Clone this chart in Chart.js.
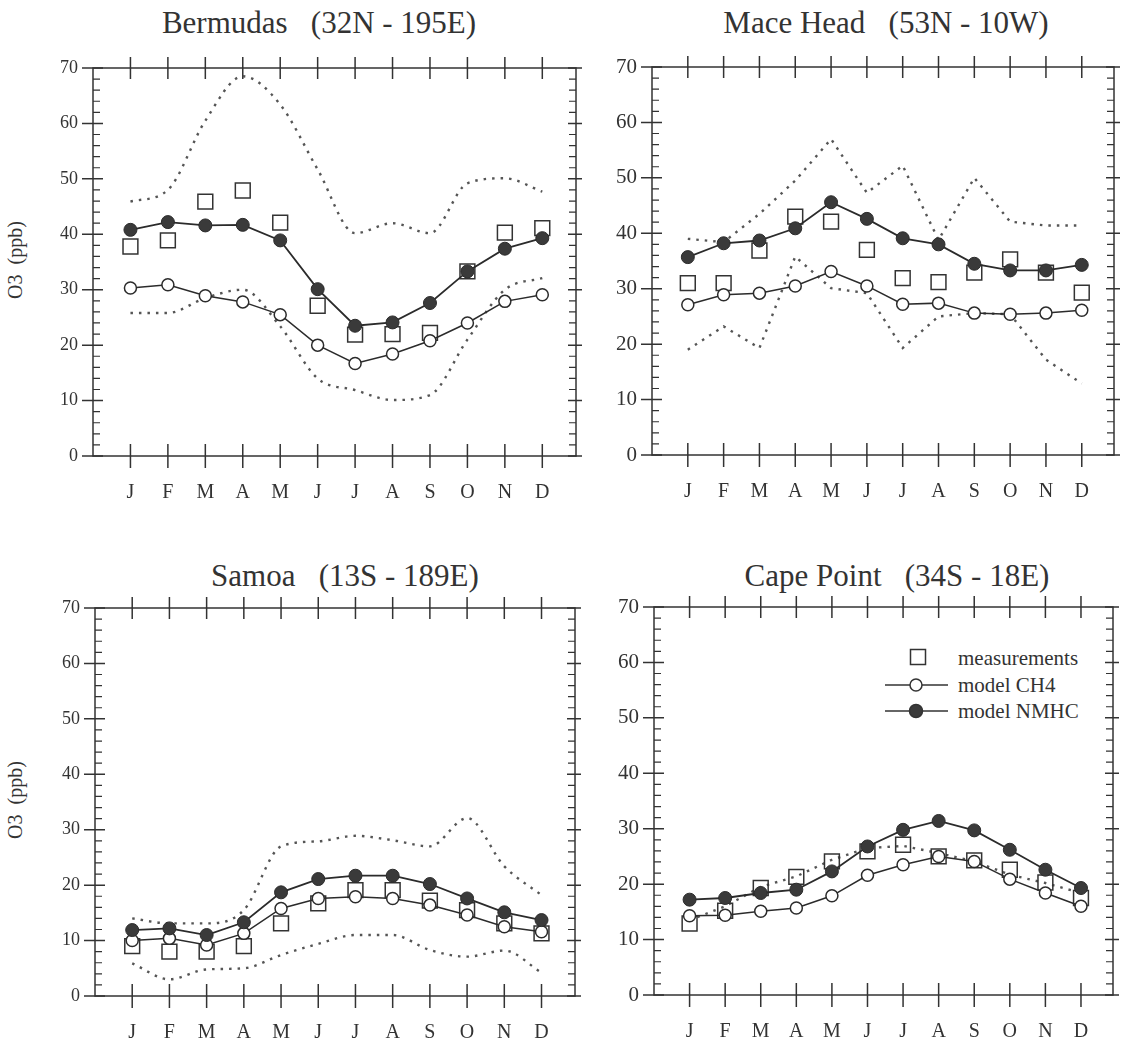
<!DOCTYPE html>
<html lang="en">
<head>
<meta charset="UTF-8">
<title>Seasonal cycle of surface ozone</title>
<script src="https://cdn.jsdelivr.net/npm/chart.js"></script>
<style>
  body { margin: 0; background: #fff; }
  #page { position: relative; width: 1147px; height: 1041px; font-family: 'Liberation Serif', 'Times New Roman', serif; color: #333; }
  canvas { position: absolute; }
  .title { position: absolute; font-size: 31px; line-height: 1; white-space: pre; transform: translateX(-50%); }
  .ylab { position: absolute; font-size: 20px; line-height: 1; white-space: pre; transform: translate(-50%, -50%) rotate(-90deg); }
  .leg { position: absolute; font-size: 21px; line-height: 1; white-space: pre; transform: translateY(-50%); }
</style>
</head>
<body>
<div id="page">
  <div class="title" style="left:319px; top:7px">Bermudas   (32N - 195E)</div>
  <div class="title" style="left:886px; top:7px">Mace Head   (53N - 10W)</div>
  <div class="title" style="left:345px; top:560px">Samoa   (13S - 189E)</div>
  <div class="title" style="left:897px; top:560px">Cape Point   (34S - 18E)</div>
  <div class="ylab" style="left:15px; top:260px">O3  (ppb)</div>
  <div class="ylab" style="left:15px; top:800px">O3  (ppb)</div>
  <div class="leg" style="left:958px; top:658px">measurements</div>
  <div class="leg" style="left:958px; top:685px">model CH4</div>
  <div class="leg" style="left:958px; top:711px">model NMHC</div>

  <canvas id="bermudas" width="590" height="530" style="left:0; top:0"></canvas>
  <canvas id="macehead" width="557" height="530" style="left:590px; top:0"></canvas>
  <canvas id="samoa" width="590" height="511" style="left:0; top:530px"></canvas>
  <canvas id="capepoint" width="557" height="511" style="left:590px; top:530px"></canvas>
</div>

<script>
// month labels and y ticks
const months = ['J', 'F', 'M', 'A', 'M', 'J', 'J', 'A', 'S', 'O', 'N', 'D'];
const yTicks = [0, 10, 20, 30, 40, 50, 60, 70];

// Bermudas (32N - 195E)
const bermMeas = [37.8, 38.9, 45.9, 47.9, 42.1, 27.1, 21.9, 22.0, 22.2, 33.3, 40.3, 41.1];
const bermCH4  = [30.3, 30.9, 28.9, 27.8, 25.5, 20.0, 16.7, 18.4, 20.8, 24.0, 27.9, 29.1];
const bermNMHC = [40.8, 42.2, 41.6, 41.7, 38.9, 30.1, 23.5, 24.1, 27.6, 33.3, 37.4, 39.3];
const bermHigh = [45.9, 48.0, 60.5, 68.5, 63.4, 51.7, 40.2, 42.0, 40.2, 49.2, 50.1, 47.7];
const bermLow  = [25.8, 25.8, 28.5, 30.0, 23.4, 14.0, 11.9, 10.1, 11.0, 21.0, 30.0, 32.1];

// Mace Head (53N - 10W)
const maceMeas = [31.0, 31.0, 36.9, 43.0, 42.1, 37.0, 31.9, 31.2, 32.9, 35.3, 32.9, 29.3];
const maceCH4  = [27.1, 28.9, 29.2, 30.5, 33.1, 30.5, 27.2, 27.4, 25.6, 25.4, 25.6, 26.1];
const maceNMHC = [35.7, 38.2, 38.7, 40.9, 45.6, 42.6, 39.1, 38.0, 34.5, 33.3, 33.3, 34.3];
const maceHigh = [39.0, 38.4, 43.5, 49.5, 57.0, 47.3, 52.2, 38.8, 50.0, 42.1, 41.4, 41.4];
const maceLow  = [19.0, 23.2, 19.3, 35.8, 30.1, 29.2, 19.3, 25.0, 25.6, 25.4, 17.2, 12.9];

// Samoa (13S - 189E)
const samMeas = [9.0, 8.0, 8.0, 9.0, 13.1, 16.7, 19.1, 19.1, 17.2, 15.5, 13.1, 11.3];
const samCH4  = [10.0, 10.4, 9.2, 11.3, 15.8, 17.6, 17.9, 17.6, 16.4, 14.6, 12.5, 11.6];
const samNMHC = [11.9, 12.2, 11.0, 13.3, 18.7, 21.1, 21.7, 21.7, 20.2, 17.6, 15.1, 13.7];
const samHigh = [14.0, 13.1, 13.1, 15.5, 27.0, 27.9, 28.9, 28.1, 27.0, 32.1, 23.4, 18.2];
const samLow  = [5.9, 3.0, 4.8, 5.0, 7.4, 9.4, 11.0, 11.0, 8.3, 7.1, 8.2, 4.2];

// Cape Point (34S - 18E)
const capeMeas   = [12.9, 15.2, 19.3, 21.3, 24.1, 25.9, 27.1, 25.0, 24.3, 22.6, 20.3, 17.5];
const capeCH4    = [14.3, 14.4, 15.1, 15.7, 17.9, 21.6, 23.5, 25.0, 24.1, 20.9, 18.4, 16.0];
const capeNMHC   = [17.2, 17.5, 18.4, 19.0, 22.3, 26.8, 29.8, 31.4, 29.7, 26.2, 22.6, 19.3];
const capeDotted = [13.5, 16.0, 19.5, 21.4, 24.4, 26.5, 26.9, 25.6, 24.1, 21.7, 20.2, 18.4];

const FONT = "'Liberation Serif', 'Times New Roman', serif";
const INK = '#333';

function pts(vals) {
  return vals.map((v, i) => ({ x: i + 1, y: v }));
}

// frame with crossing ticks, like the original plot
const frameAxes = {
  id: 'frameAxes',
  beforeDatasetsDraw(chart) {
    const { ctx, chartArea: a, scales: { x, y } } = chart;
    ctx.save();
    ctx.strokeStyle = INK;
    ctx.lineWidth = 1.5;
    ctx.strokeRect(a.left, a.top, a.right - a.left, a.bottom - a.top);
    ctx.beginPath();
    months.forEach((m, i) => {
      const px = x.getPixelForValue(i + 1);
      ctx.moveTo(px, a.top - 11); ctx.lineTo(px, a.top + 11);
      ctx.moveTo(px, a.bottom - 12); ctx.lineTo(px, a.bottom + 12);
    });
    yTicks.forEach(v => {
      const py = y.getPixelForValue(v);
      ctx.moveTo(a.left - 11, py); ctx.lineTo(a.left + 10, py);
      ctx.moveTo(a.right - 8, py); ctx.lineTo(a.right + 6, py);
    });
    ctx.stroke();
    ctx.lineWidth = 1.2;
    ctx.beginPath();
    for (let v = 2; v < 70; v += 2) {
      if (v % 10 === 0) continue;
      const py = y.getPixelForValue(v);
      ctx.moveTo(a.left, py); ctx.lineTo(a.left + 7, py);
      ctx.moveTo(a.right - 7, py); ctx.lineTo(a.right, py);
    }
    ctx.stroke();
    ctx.restore();
  }
};

// legend symbols (text is in the page)
const capeLegend = {
  id: 'capeLegend',
  afterDraw(chart) {
    const { ctx, chartArea: a } = chart;
    const sx = a.left + 264, sy = a.top + 50;
    ctx.save();
    ctx.strokeStyle = INK;
    ctx.lineWidth = 1.5;
    ctx.strokeRect(sx - 7.5, sy - 7.5, 15, 15);
    [[78, '#fff', 6], [104, '#3a3a3a', 6.5]].forEach(([dy, fill, r]) => {
      ctx.beginPath();
      ctx.moveTo(a.left + 231, a.top + dy); ctx.lineTo(a.left + 294, a.top + dy);
      ctx.stroke();
      ctx.beginPath();
      ctx.arc(a.left + 262, a.top + dy, r, 0, Math.PI * 2);
      ctx.fillStyle = fill; ctx.fill(); ctx.stroke();
    });
    ctx.restore();
  }
};

function makePanel(id, box, series, extra) {
  const dotted = series.dotted.map(vals => ({
    data: pts(vals),
    borderColor: '#555',
    borderWidth: 2.4,
    borderDash: [2.5, 6],
    pointRadius: 0,
    cubicInterpolationMode: series.smooth ? 'monotone' : 'default',
    order: 4
  }));
  const datasets = [
    {
      label: 'model NMHC', data: pts(series.nmhc),
      borderColor: '#2b2b2b', borderWidth: 1.8,
      pointRadius: 6.5, pointBackgroundColor: '#3a3a3a', pointBorderColor: '#2b2b2b', pointBorderWidth: 1,
      order: 1
    },
    {
      label: 'model CH4', data: pts(series.ch4),
      borderColor: '#2b2b2b', borderWidth: 1.5,
      pointRadius: 6, pointBackgroundColor: '#fff', pointBorderColor: '#2b2b2b', pointBorderWidth: 1.5,
      order: 2
    },
    {
      label: 'measurements', data: pts(series.meas), showLine: false,
      pointStyle: 'rect', pointRadius: 10.5,
      pointBackgroundColor: 'rgba(0,0,0,0)', pointBorderColor: INK, pointBorderWidth: 1.5,
      order: 3
    },
    ...dotted
  ];

  return new Chart(document.getElementById(id), {
    type: 'line',
    data: { datasets },
    plugins: [frameAxes].concat(extra || []),
    options: {
      responsive: false,
      animation: false,
      events: [],
      layout: { padding: { left: 0, right: box.right, top: box.top, bottom: 0 } },
      plugins: { legend: { display: false }, tooltip: { enabled: false } },
      scales: {
        x: {
          type: 'linear', min: 0, max: 12.9,
          grid: { display: false, drawTicks: false },
          border: { display: false },
          afterBuildTicks: s => { s.ticks = months.map((m, i) => ({ value: i + 1 })); },
          afterFit: s => { s.height = box.xh; },
          ticks: {
            autoSkip: false, maxRotation: 0, padding: 25, color: INK,
            font: { family: FONT, size: 20 },
            callback: v => months[v - 1]
          }
        },
        y: {
          min: 0, max: 70,
          grid: { display: false, drawTicks: false },
          border: { display: false },
          afterBuildTicks: s => { s.ticks = yTicks.map(v => ({ value: v })); },
          afterFit: s => { s.width = box.yw; },
          ticks: { padding: 15, color: INK, font: { family: FONT, size: box.fs } }
        }
      }
    }
  });
}

makePanel('bermudas', { right: 14, top: 68, xh: 74, yw: 93, fs: 18 },
  { meas: bermMeas, ch4: bermCH4, nmhc: bermNMHC, dotted: [bermHigh, bermLow], smooth: true });
makePanel('macehead', { right: 33, top: 67, xh: 75, yw: 62, fs: 21 },
  { meas: maceMeas, ch4: maceCH4, nmhc: maceNMHC, dotted: [maceHigh, maceLow], smooth: false });
makePanel('samoa', { right: 15, top: 78, xh: 45, yw: 95, fs: 18 },
  { meas: samMeas, ch4: samCH4, nmhc: samNMHC, dotted: [samHigh, samLow], smooth: true });
makePanel('capepoint', { right: 34, top: 77, xh: 46, yw: 64, fs: 21 },
  { meas: capeMeas, ch4: capeCH4, nmhc: capeNMHC, dotted: [capeDotted], smooth: false }, [capeLegend]);
</script>
</body>
</html>
